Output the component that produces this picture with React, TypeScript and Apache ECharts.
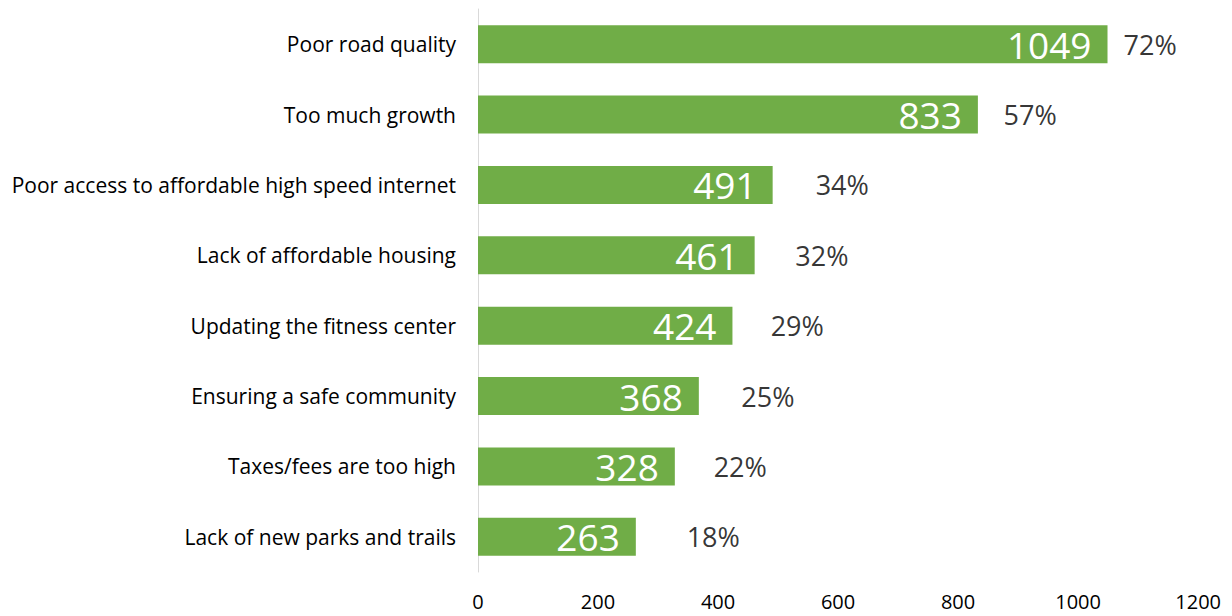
import React, { useEffect, useRef } from "react";
import * as echarts from "echarts";

const categories = [
  "Poor road quality",
  "Too much growth",
  "Poor access to affordable high speed internet",
  "Lack of affordable housing",
  "Updating the fitness center",
  "Ensuring a safe community",
  "Taxes/fees are too high",
  "Lack of new parks and trails",
];
const counts = [1049, 833, 491, 461, 424, 368, 328, 263];
const percents = ["72%", "57%", "34%", "32%", "29%", "25%", "22%", "18%"];
// x-value (axis units) at which each percentage label is centred
const pctPos = [1120, 920, 607, 573, 532, 483, 437, 392];
const xTicks = { min: 0, max: 1200, interval: 200 };

const FONT = "'Open Sans', sans-serif";

export default function App() {
  const ref = useRef<HTMLDivElement>(null);
  useEffect(() => {
    if (!ref.current) return;
    const chart = echarts.init(ref.current, undefined, { renderer: "svg" });
    const cats = [...categories].reverse();
    const vals = [...counts].reverse();
    const pcts = [...percents].reverse();
    const pos = [...pctPos].reverse();
    chart.setOption({
      animation: false,
      grid: { left: 470, right: 24, top: 1, bottom: 44, containLabel: false },
      xAxis: {
        type: "value",
        min: xTicks.min,
        max: xTicks.max,
        interval: xTicks.interval,
        splitLine: { show: false },
        axisLine: { show: false },
        axisTick: { show: false },
        axisLabel: {
          color: "#000",
          fontSize: 20,
          fontFamily: FONT,
          margin: 19,
          formatter: (v: number) => String(v),
        },
      },
      yAxis: {
        type: "category",
        data: cats,
        axisLine: { show: true, lineStyle: { color: "#d9d9d9", width: 1 } },
        axisTick: { show: false },
        axisLabel: { color: "#000", fontSize: 21, fontFamily: FONT, margin: 22 },
      },
      series: [
        {
          type: "bar",
          data: vals,
          barCategoryGap: "46%",
          itemStyle: { color: "#70AD47" },
          label: {
            show: true,
            position: "insideRight",
            distance: 16,
            color: "#fff",
            fontSize: 37,
            fontFamily: FONT,
          },
          z: 2,
        },
        {
          type: "scatter",
          data: pos.map((p, i) => ({ value: [p, cats[i]], pct: pcts[i] })),
          symbolSize: 1,
          itemStyle: { color: "rgba(0,0,0,0)" },
          label: {
            show: true,
            position: "inside",
            color: "#000",
            fontSize: 27,
            fontFamily: FONT,
            formatter: (p: any) => p.data.pct,
          },
          z: 3,
        },
      ],
    });
    return () => chart.dispose();
  }, []);
  return <div ref={ref} style={{ width: 1216, height: 608 }} />;
}
